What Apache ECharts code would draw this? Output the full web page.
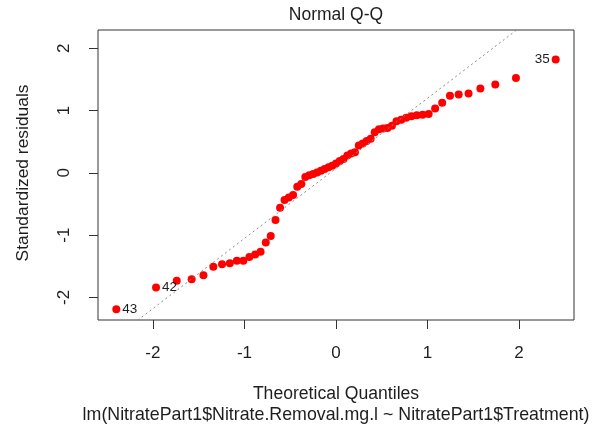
<!DOCTYPE html>
<html>
<head>
<meta charset="utf-8">
<script src="https://cdn.jsdelivr.net/npm/echarts@6/dist/echarts.min.js"></script>
<style>html,body{margin:0;padding:0;background:#fff;}#c{width:608px;height:430px;}</style>
</head>
<body>
<div id="c"></div>
<script>
// Theoretical quantiles
var theoQ = [-2.400,-1.966,-1.740,-1.577,-1.448,-1.340,-1.245,-1.160,-1.083,-1.012,-0.946,-0.883,-0.824,-0.767,-0.713,-0.661,-0.611,-0.562,-0.515,-0.469,-0.423,-0.379,-0.335,-0.292,-0.249,-0.207,-0.165,-0.124,-0.082,-0.041,0.000,0.041,0.082,0.124,0.165,0.207,0.249,0.292,0.335,0.379,0.423,0.469,0.515,0.562,0.611,0.661,0.713,0.767,0.824,0.883,0.946,1.012,1.083,1.160,1.245,1.340,1.448,1.577,1.740,1.966,2.400];
// Standardized residuals (sorted)
var stdResid = [-2.193,-1.840,-1.734,-1.711,-1.647,-1.509,-1.470,-1.454,-1.414,-1.414,-1.353,-1.313,-1.268,-1.120,-1.016,-0.759,-0.562,-0.438,-0.395,-0.358,-0.225,-0.180,-0.066,-0.040,-0.020,0.005,0.032,0.060,0.090,0.115,0.150,0.190,0.220,0.280,0.310,0.330,0.440,0.470,0.510,0.549,0.653,0.700,0.713,0.720,0.758,0.830,0.854,0.886,0.910,0.926,0.934,0.945,1.034,1.124,1.236,1.258,1.274,1.355,1.419,1.525,1.822];
// Identified observations
var idLabels = ['43','42','35'];
var idIndex = [0,1,60];
// Reference line (qqline) intercept and slope
var qqIntercept = 0.072;
var qqSlope = 1.126;
// Tick labels
var xTicks = [-2,-1,0,1,2];
var yTicks = [-2,-1,0,1,2];
var titleText = 'Normal Q-Q';
var xTitle = 'Theoretical Quantiles';
var subTitle = 'lm(NitratePart1$Nitrate.Removal.mg.l ~ NitratePart1$Treatment)';
var yTitle = 'Standardized residuals';

var xMin = -2.6, xMax = 2.6, yMin = -2.364, yMax = 2.294;
var FONT = "'Liberation Sans', Arial, sans-serif";
var TXT = '#1e1e1e';

var pts = theoQ.map(function (q, i) {
  var item = { value: [q, stdResid[i]] };
  var k = idIndex.indexOf(i);
  if (k >= 0) {
    var right = stdResid[i] < 0;
    item.label = {
      show: true,
      formatter: idLabels[k],
      position: right ? 'right' : 'left',
      distance: 2,
      fontSize: 13.5,
      fontFamily: FONT,
      color: TXT
    };
  }
  return item;
});

var chart = echarts.init(document.getElementById('c'), null, { renderer: 'canvas' });
chart.setOption({
  animation: false,
  backgroundColor: '#fff',
  grid: { left: 98, top: 30, right: 34, bottom: 110, show: true, borderColor: '#333', borderWidth: 1, backgroundColor: 'transparent' },
  xAxis: {
    type: 'value', min: xMin, max: xMax,
    axisLine: { show: false, onZero: false },
    splitLine: { show: false },
    axisTick: { show: true, length: 9, customValues: xTicks, lineStyle: { color: '#333' } },
    axisLabel: { customValues: xTicks, margin: 25, fontSize: 17, fontFamily: FONT, color: TXT, formatter: function (v) { return String(v); } }
  },
  yAxis: {
    type: 'value', min: yMin, max: yMax,
    axisLine: { show: false, onZero: false },
    splitLine: { show: false },
    axisTick: { show: true, length: 9, customValues: yTicks, lineStyle: { color: '#333' } },
    axisLabel: { customValues: yTicks, rotate: 90, margin: 25, fontSize: 17, fontFamily: FONT, color: TXT, formatter: function (v) { return String(v); } }
  },
  series: [
    {
      type: 'scatter',
      data: pts,
      symbol: 'circle',
      symbolSize: 8,
      itemStyle: { color: '#ff0000', opacity: 1 },
      z: 2
    },
    {
      type: 'line',
      data: [[xMin, qqIntercept + qqSlope * xMin], [xMax, qqIntercept + qqSlope * xMax]],
      showSymbol: false,
      symbol: 'none',
      clip: true,
      lineStyle: { color: '#8a8a8a', width: 1, type: [2, 3] },
      z: 3,
      silent: true
    }
  ],
  graphic: [
    { type: 'text', x: 336, y: 15, style: { text: titleText, fontSize: 17.5, fontFamily: FONT, fill: TXT, textAlign: 'center', textVerticalAlign: 'middle' } },
    { type: 'text', x: 336, y: 394.5, style: { text: xTitle, fontSize: 17.6, fontFamily: FONT, fill: TXT, textAlign: 'center', textVerticalAlign: 'middle' } },
    { type: 'text', x: 336, y: 415, style: { text: subTitle, fontSize: 17.8, fontFamily: FONT, fill: TXT, textAlign: 'center', textVerticalAlign: 'middle' } },
    { type: 'text', x: 23, y: 173, rotation: Math.PI / 2, style: { text: yTitle, fontSize: 17.4, fontFamily: FONT, fill: TXT, textAlign: 'center', textVerticalAlign: 'middle' } }
  ]
});
</script>
</body>
</html>
